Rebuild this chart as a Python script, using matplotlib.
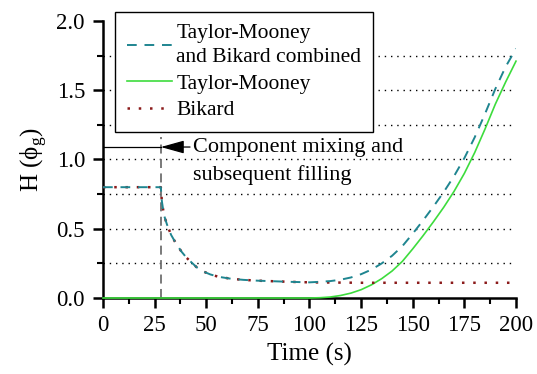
import numpy as np
import matplotlib.pyplot as plt
from matplotlib.ticker import MultipleLocator

plt.rcParams['font.family'] = 'Liberation Serif'
plt.rcParams['mathtext.fontset'] = 'custom'
plt.rcParams['mathtext.rm'] = 'Liberation Serif'

# Bikard (mixing + filling), flat after ~100 s
bikard_t = [0, 28, 28.5, 29.5, 31, 33, 35.5, 38, 40.5, 43, 45.5, 48, 52, 56, 62, 68, 75, 90, 100,
            125, 150, 175, 200]
bikard_h = [0.8, 0.8, 0.70, 0.60, 0.53, 0.455, 0.39, 0.335, 0.29, 0.255, 0.22, 0.195, 0.17, 0.153,
            0.139, 0.131, 0.125, 0.117, 0.113, 0.11, 0.11, 0.11, 0.11]

# Taylor-Mooney
tm_t = [0, 100, 105, 110, 115, 120, 125, 130, 135, 140, 145, 150, 155, 160, 165, 170, 175, 180,
        185, 190, 195, 200]
tm_h = [0, 0, 0.002, 0.007, 0.018, 0.035, 0.06, 0.095, 0.14, 0.195, 0.265, 0.355, 0.45, 0.55,
        0.655, 0.77, 0.9, 1.05, 1.22, 1.40, 1.56, 1.71]

# Taylor-Mooney and Bikard combined
comb_t = bikard_t[:19] + [105, 110, 115, 120, 125, 130, 135, 140, 145, 150, 155, 160, 165, 170,
                          175, 180, 185, 190, 195, 200]
comb_h = bikard_h[:19] + [0.117, 0.122, 0.132, 0.148, 0.172, 0.205, 0.25, 0.305, 0.375, 0.465,
                          0.56, 0.66, 0.765, 0.88, 1.01, 1.16, 1.33, 1.51, 1.67, 1.80]

fig = plt.figure(figsize=(5.37, 3.74), dpi=100)
ax = fig.add_axes([0.1918, 0.2032, 0.7691, 0.7407])

# dotted grid lines
for y in np.arange(0.25, 2.0, 0.25):
    ax.plot([0, 200], [y, y], color='black', lw=1.0, ls=(0, (1, 3.5)), zorder=1)

l1, = ax.plot(comb_t, comb_h, color='#1f8590', lw=1.4, ls=(0, (5, 4)), zorder=4)
l2, = ax.plot(tm_t, tm_h, color='#3ddc3d', lw=1.2, zorder=3, clip_on=False)
l3, = ax.plot(bikard_t, bikard_h, color='#8b1a1a', lw=1.8, ls=(0, (1, 3.5)), zorder=3)

# component mixing marker
ax.plot([28, 28], [0, 1.16], color='#707070', lw=1.3, ls=(0, (5, 3)), zorder=2)
ax.plot([0, 28], [1.09, 1.09], color='black', lw=0.9, zorder=5)
ax.annotate('Component mixing and', xy=(28, 1.09), xytext=(43.5, 1.09),
            fontsize=16, va='center', ha='left',
            arrowprops=dict(arrowstyle='-|>,head_length=0.9,head_width=0.25', color='black',
                            lw=0.9, shrinkA=0, shrinkB=0))
ax.text(43.5, 0.89, 'subsequent filling', fontsize=16, va='center', ha='left')

ax.set_xlim(0, 200)
ax.set_ylim(0, 2.0)
ax.xaxis.set_major_locator(MultipleLocator(25))
ax.xaxis.set_minor_locator(MultipleLocator(12.5))
ax.yaxis.set_major_locator(MultipleLocator(0.5))
ax.yaxis.set_minor_locator(MultipleLocator(0.25))
ax.yaxis.set_major_formatter(plt.FormatStrFormatter('%.1f'))

for s in ['top', 'right']:
    ax.spines[s].set_visible(False)
for s in ['left', 'bottom']:
    ax.spines[s].set_linewidth(1.8)
ax.tick_params(which='major', direction='out', length=7, width=1.8, labelsize=16.5)
ax.tick_params(which='minor', direction='out', length=4, width=1.5)
ax.tick_params(axis='x', which='major', pad=5.5)
ax.tick_params(axis='y', which='major', pad=6)

ax.set_xlabel('Time (s)', fontsize=18, labelpad=5)
ax.set_ylabel('H (ϕ$_\\mathregular{g}$)', fontsize=18, labelpad=5)

leg = fig.legend([l1, l2, l3], ['Taylor-Mooney\nand Bikard combined', 'Taylor-Mooney', 'Bikard'],
                 loc='upper left', bbox_to_anchor=(0.214, 0.968), fontsize=15.5,
                 frameon=True, fancybox=False, edgecolor='black', framealpha=1,
                 handlelength=2.1, handletextpad=0.2, labelspacing=0.3, borderpad=0.55,
                 borderaxespad=0)
leg.get_texts()[0].set_linespacing(1.4)
leg.get_frame().set_linewidth(1.0)
leg.set_zorder(10)

fig.savefig('out.png', dpi=100)
